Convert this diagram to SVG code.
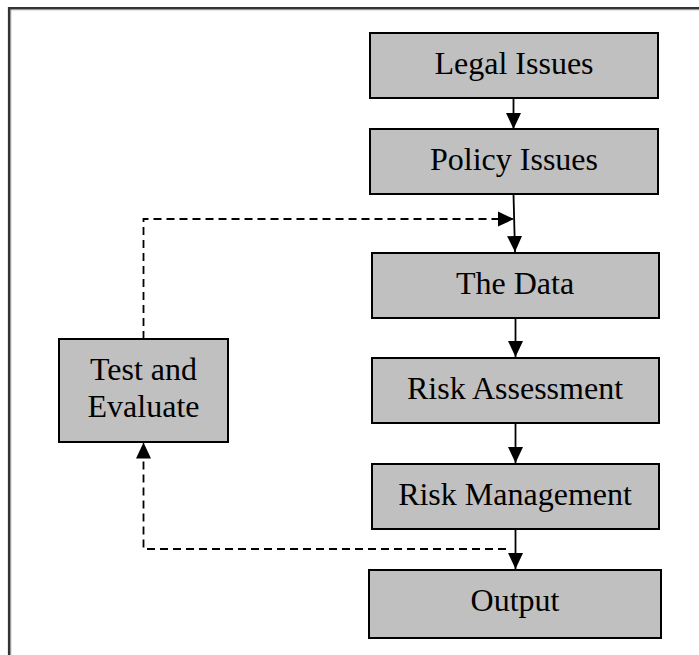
<svg xmlns="http://www.w3.org/2000/svg" width="699" height="655" viewBox="0 0 699 655">
<style>
.box{fill:#c0c0c0;stroke:#000;stroke-width:2}
.lbl{font-family:"Liberation Serif","Times New Roman",serif;font-size:32px;fill:#000;text-anchor:middle}
.ln{fill:none;stroke:#000;stroke-width:1.8}
.dash{fill:none;stroke:#000;stroke-width:1.8;stroke-dasharray:8,5}
</style>
<defs>
<marker id="ah" markerUnits="userSpaceOnUse" markerWidth="17" markerHeight="17" viewBox="0 0 17 17" refX="16" refY="8.5" orient="auto">
<path d="M0,1 L16,8.5 L0,16 Z" fill="#000"/>
</marker>
</defs>
<rect width="699" height="655" fill="#fff"/>
<g id="frame">
<path d="M9.2,660 V8.2 H710" fill="none" stroke="#333" stroke-width="2.6"/>
<path d="M10.8,660 V9.8 H710" fill="none" stroke="#999" stroke-width="0.8"/>
</g>
<g id="legal"><rect class="box" x="370" y="33" width="288" height="65"/><text class="lbl" x="514" y="74">Legal Issues</text></g>
<g id="policy"><rect class="box" x="370" y="129" width="288" height="65"/><text class="lbl" x="514" y="170">Policy Issues</text></g>
<g id="data"><rect class="box" x="372" y="253" width="287" height="65"/><text class="lbl" x="515" y="293.5">The Data</text></g>
<g id="riskassess"><rect class="box" x="372" y="358" width="287" height="65"/><text class="lbl" x="515" y="399">Risk Assessment</text></g>
<g id="riskmgmt"><rect class="box" x="372" y="464" width="287" height="65"/><text class="lbl" x="515" y="504.5">Risk Management</text></g>
<g id="output"><rect class="box" x="369" y="570" width="292" height="68"/><text class="lbl" x="515" y="611">Output</text></g>
<g id="test"><rect class="box" x="59" y="339" width="169" height="103"/><text class="lbl" x="143.5" y="380">Test and</text><text class="lbl" x="143.5" y="417">Evaluate</text></g>
<g id="connectors">
<line class="ln" x1="513.5" y1="98" x2="513.5" y2="129" marker-end="url(#ah)"/>
<line class="ln" x1="513.5" y1="194" x2="515" y2="252" marker-end="url(#ah)"/>
<line class="ln" x1="515.5" y1="318" x2="515.5" y2="357" marker-end="url(#ah)"/>
<line class="ln" x1="515.5" y1="423" x2="515.5" y2="463" marker-end="url(#ah)"/>
<line class="ln" x1="515.5" y1="529" x2="515.5" y2="569" marker-end="url(#ah)"/>
<path class="dash" d="M143.5,339 V219 H514" marker-end="url(#ah)"/>
<path class="dash" d="M506,549 H143.5 V442.5" marker-end="url(#ah)"/>
</g>
</svg>
